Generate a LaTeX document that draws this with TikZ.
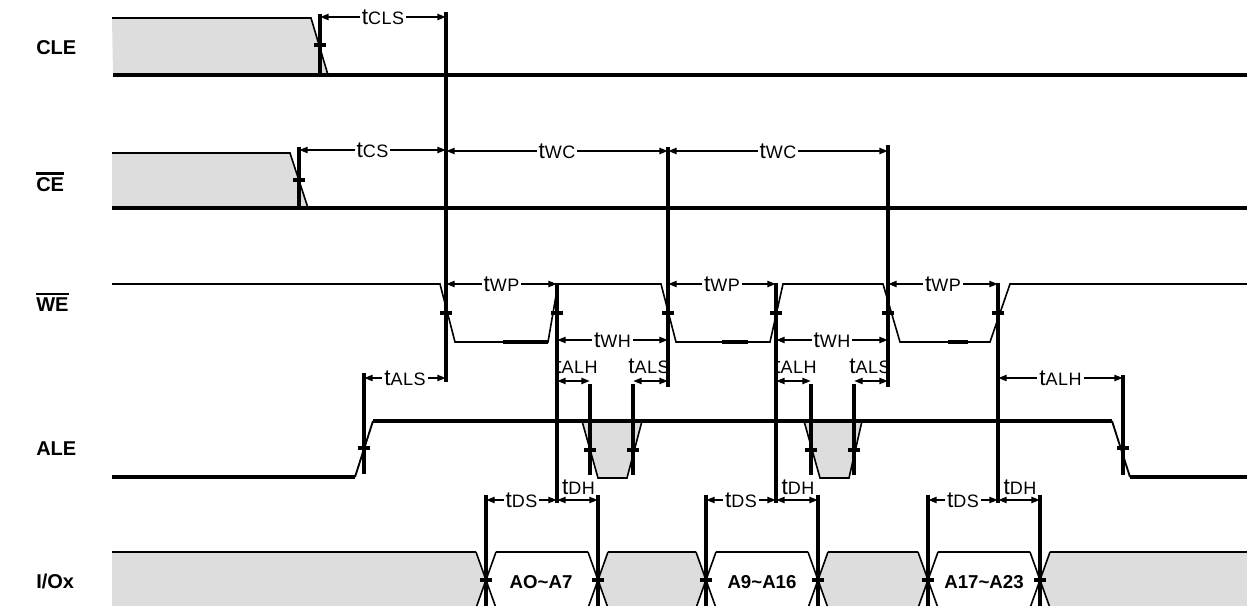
\documentclass[tikz,border=0pt]{standalone}
\usepackage{fontspec}
\setmainfont{Liberation Sans}
\usetikzlibrary{arrows.meta}
\definecolor{busgray}{RGB}{221,221,221}
\newcommand{\tmlab}[1]{{\fontsize{17}{17}\selectfont t}{\fontsize{13.5}{13.5}\selectfont\addfontfeature{LetterSpace=3}#1}}
\newcommand{\tickat}[2]{\draw[tickmk] ({#1-6},#2) -- ({#1+6},#2);}
\begin{document}
\begin{tikzpicture}[x=0.75pt,y=-0.75pt,
  sig/.style={line width=1.2pt},
  sigthick/.style={line width=2.4pt},
  mkline/.style={line width=2.4pt},
  tickmk/.style={line width=2.4pt},
  dim/.style={line width=2.2pt,{Triangle[length=6.5pt,width=4.5pt]}-{Triangle[length=6.5pt,width=4.5pt]}},
  lab/.style={fill=white,inner xsep=1.5pt,inner ysep=0pt},
  sname/.style={font=\fontsize{15}{15}\selectfont\bfseries,anchor=west,inner sep=0pt},
  data/.style={font=\fontsize{14}{14}\selectfont\bfseries,inner sep=0pt}
]
\useasboundingbox (0,0) rectangle (1247,606);

% ---------- signal names ----------
\node[sname] (nCLE) at (36,48) {CLE};
\node[sname] (nCE) at (36,185) {CE};
\draw[line width=1.8pt] ([yshift=3pt]nCE.north west) -- ([yshift=3pt]nCE.north east);
\node[sname] (nWE) at (36,305) {WE};
\draw[line width=1.8pt] ([yshift=3pt]nWE.north west) -- ([yshift=3pt]nWE.north east);
\node[sname] (nALE) at (36,449) {ALE};
\node[sname] (nIO) at (36,581) {I/Ox};

% ---------- CLE ----------
\fill[busgray] (112,18) -- (311,18) -- (328,75) -- (113,75) -- cycle;
\draw[sig] (112,18) -- (311,18) -- (328,75);
\draw[sigthick] (113,75) -- (1247,75);

% ---------- CE ----------
\fill[busgray] (112,153) -- (290,153) -- (308,208) -- (112,208) -- cycle;
\draw[sig] (112,153) -- (290,153) -- (308,208);
\draw[sigthick] (112,208) -- (1247,208);

% ---------- WE ----------
\draw[sig] (112,284) -- (440,284) -- (455,342) -- (548,342) -- (558,284) -- (661,284)
  -- (676,342) -- (770,342) -- (783,284) -- (883,284) -- (900,342) -- (990,342)
  -- (1010,284) -- (1247,284);
\draw[line width=1.6pt] (455,342) -- (548,342);
\draw[line width=1.6pt] (676,342) -- (770,342);
\draw[line width=1.6pt] (900,342) -- (990,342);
\draw[line width=2.3pt] (503,342) -- (548,342);
\draw[line width=2.3pt] (722,342) -- (748,342);
\draw[line width=2.3pt] (948,342) -- (968,342);
\draw[line width=1.6pt] (558,284) -- (661,284);
\draw[line width=1.9pt] (783,284) -- (883,284);
\draw[line width=2.2pt] (1010,284) -- (1247,284);

% ---------- ALE ----------
\fill[busgray] (582,421) -- (598,478) -- (627,478) -- (642,421) -- cycle;
\draw[sig] (582,421) -- (598,478) -- (627,478) -- (642,421);
\fill[busgray] (804,421) -- (820,478) -- (849,478) -- (862,421) -- cycle;
\draw[sig] (804,421) -- (820,478) -- (849,478) -- (862,421);
\draw[sigthick] (112,477) -- (355,477);
\draw[line width=1.4pt] (355,477) -- (373,421);
\draw[sigthick] (373,421) -- (1112,421);
\draw[line width=1.4pt] (1112,421) -- (1130,477);
\draw[sigthick] (1130,477) -- (1247,477);

% ---------- I/O bus ----------
\begin{scope}
\clip (0,0) rectangle (1247,606);
\fill[busgray] (112,552) -- (476,552) -- (486,580) -- (476,608) -- (112,608) -- cycle;
\fill[busgray] (598,580) -- (608,552) -- (696,552) -- (706,580) -- (696,608) -- (608,608) -- cycle;
\fill[busgray] (818,580) -- (828,552) -- (918,552) -- (928,580) -- (918,608) -- (828,608) -- cycle;
\fill[busgray] (1040,580) -- (1050,552) -- (1247,552) -- (1247,608) -- (1050,608) -- cycle;
\foreach \a/\b in {112/476,496/588,608/696,716/808,828/918,938/1030,1050/1247}{
  \draw[sig] (\a,552) -- (\b,552);
  \draw[sig] (\a,608) -- (\b,608);
}
\foreach \c in {486,598,706,818,928,1040}{
  \draw[sig] ({\c-10},552) -- ({\c+10},608);
  \draw[sig] ({\c+10},552) -- ({\c-10},608);
  \draw[mkline] (\c,495) -- (\c,610);
  \tickat{\c}{580}
}
\end{scope}
\node[data] (d1) at (541,582) {AO\char`~A7};
\node[data] (d2) at (762,582) {A9\char`~A16};
\node[data] (d3) at (984,582) {A17\char`~A23};

% ---------- marker lines ----------
\draw[mkline] (320,14) -- (320,75);   \tickat{320}{45}
\draw[mkline] (299,147) -- (299,208); \tickat{299}{180}
\draw[mkline] (446,12) -- (446,382);  \tickat{446}{313}
\draw[mkline] (557,283) -- (557,503); \tickat{557}{313}
\draw[mkline] (668,147) -- (668,387); \tickat{668}{313}
\draw[mkline] (776,283) -- (776,503); \tickat{776}{313}
\draw[mkline] (888,145) -- (888,387); \tickat{888}{313}
\draw[mkline] (998,283) -- (998,503); \tickat{998}{313}
\draw[mkline] (364,373) -- (364,474); \tickat{364}{448}
\foreach \x in {590,633,811,854}{
  \draw[mkline] (\x,384) -- (\x,475); \tickat{\x}{450}
}
\draw[mkline] (1123,375) -- (1123,475); \tickat{1123}{448}

% ---------- timing arrows ----------
\draw[dim] (320,17) -- node[lab]{\tmlab{CLS}} (446,17);
\draw[dim] (299,150) -- node[lab]{\tmlab{CS}} (446,150);
\draw[dim] (446,151) -- node[lab]{\tmlab{WC}} (668,151);
\draw[dim] (668,151) -- node[lab]{\tmlab{WC}} (888,151);
\draw[dim] (446,284) -- node[lab]{\tmlab{WP}} (557,284);
\draw[dim] (668,284) -- node[lab]{\tmlab{WP}} (776,284);
\draw[dim] (888,284) -- node[lab]{\tmlab{WP}} (998,284);
\draw[dim] (557,340) -- node[lab]{\tmlab{WH}} (668,340);
\draw[dim] (776,340) -- node[lab]{\tmlab{WH}} (888,340);
\draw[dim] (364,378) -- node[lab]{\tmlab{ALS}} (446,378);
\draw[dim] (557,381) -- (590,381);
\node[anchor=west,inner sep=0pt] (lh1) at (555,366) {\tmlab{ALH}};
\draw[dim] (633,381) -- (668,381);
\node[anchor=west,inner sep=0pt] (ls1) at (628,366) {\tmlab{ALS}};
\draw[dim] (776,381) -- (811,381);
\node[anchor=west,inner sep=0pt] (lh2) at (774,366) {\tmlab{ALH}};
\draw[dim] (854,381) -- (888,381);
\node[anchor=west,inner sep=0pt] (ls2) at (849,366) {\tmlab{ALS}};
\draw[dim] (998,378) -- node[lab]{\tmlab{ALH}} (1123,378);
\foreach \a/\b/\c in {486/557/598,706/776/818,928/998/1040}{
  \draw[dim] (\a,500) -- node[lab]{\tmlab{DS}} (\b,500);
  \draw[dim] (\b,500) -- (\c,500);
  \node[inner sep=0pt] at ({(\b+\c)/2+1},487) {\tmlab{DH}};
}
\end{tikzpicture}
\end{document}
